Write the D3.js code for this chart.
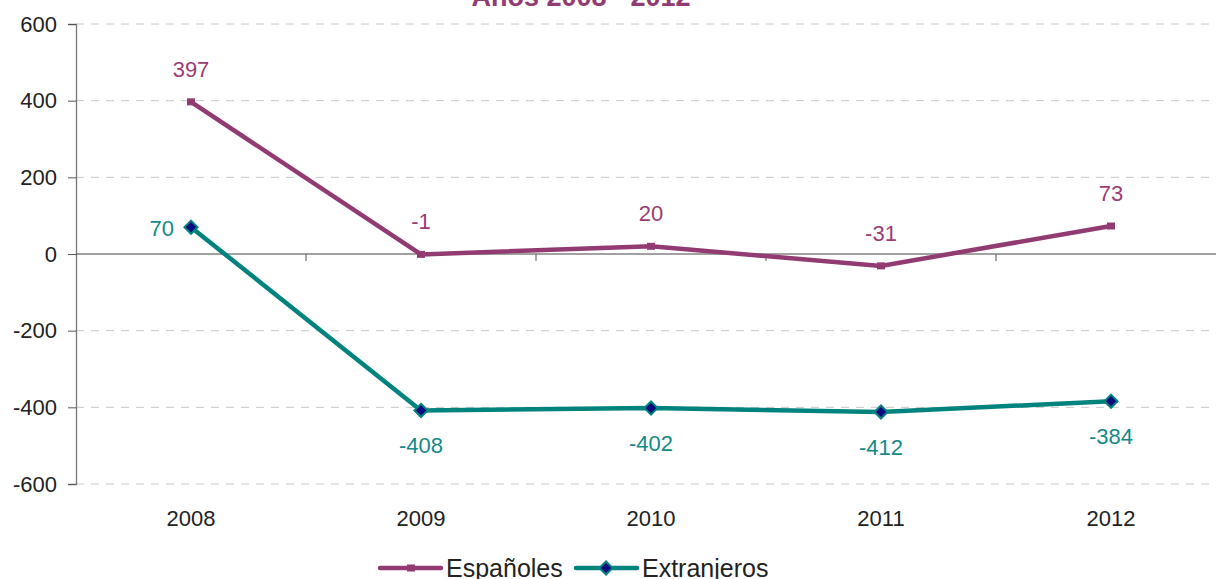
<!DOCTYPE html>
<html>
<head>
<meta charset="utf-8">
<script src="https://cdn.jsdelivr.net/npm/d3@7"></script>
<style>
  body { margin: 0; background: #fff; }
  text { font-family: 'Liberation Sans', Arial, sans-serif; }
</style>
</head>
<body>
<div id="chart"></div>
<script>
const years = ['2008', '2009', '2010', '2011', '2012']
const espanoles = [397, -1, 20, -31, 73]
const extranjeros = [70, -408, -402, -412, -384]
const yTicks = [600, 400, 200, 0, -200, -400, -600]

const width = 1216
const height = 579
const margin = { top: 24, right: -10, bottom: 95, left: 76 }

const purple = '#923a72'
const teal = '#00837d'

const svg = d3.select('#chart')
  .append('svg')
  .attr('width', width)
  .attr('height', height)

const x = d3.scaleBand()
  .domain(years)
  .range([margin.left, width - margin.right])

const y = d3.scaleLinear()
  .domain([-600, 600])
  .range([height - margin.bottom, margin.top])

// title, mostly cut off at the top
svg.append('text')
  .attr('x', 581)
  .attr('y', 6)
  .attr('text-anchor', 'middle')
  .attr('font-size', 27)
  .attr('font-weight', 'bold')
  .attr('fill', purple)
  .text('Años 2008 - 2012')

// gridlines
svg.append('g')
  .selectAll('line')
  .data(yTicks.filter(d => d !== 0))
  .join('line')
  .attr('x1', margin.left)
  .attr('x2', width)
  .attr('y1', d => y(d))
  .attr('y2', d => y(d))
  .attr('stroke', '#c8c8c8')
  .attr('stroke-dasharray', '8,7')

// y axis
const yAxis = svg.append('g')
  .attr('transform', 'translate(' + margin.left + ',0)')
  .call(d3.axisLeft(y).tickValues(yTicks).tickSize(8).tickPadding(11).tickFormat(d => String(d)))
yAxis.select('.domain').attr('stroke', '#777').attr('stroke-width', 1.3)
yAxis.selectAll('.tick line').attr('stroke', '#555')
yAxis.selectAll('text')
  .attr('font-size', 22)
  .attr('fill', '#222')
  .attr('font-family', "'Liberation Sans', Arial, sans-serif")

// zero line with category ticks
svg.append('line')
  .attr('x1', margin.left)
  .attr('x2', width)
  .attr('y1', y(0))
  .attr('y2', y(0))
  .attr('stroke', '#444')
  .attr('stroke-width', 1.2)

svg.append('g')
  .selectAll('line')
  .data(years.slice(1))
  .join('line')
  .attr('x1', d => x(d))
  .attr('x2', d => x(d))
  .attr('y1', y(0))
  .attr('y2', y(0) + 7)
  .attr('stroke', '#777')
  .attr('stroke-width', 1.3)

// x labels
svg.append('g')
  .selectAll('text')
  .data(years)
  .join('text')
  .attr('x', d => x(d) + x.bandwidth() / 2)
  .attr('y', 526)
  .attr('text-anchor', 'middle')
  .attr('font-size', 22)
  .attr('fill', '#222')
  .text(d => d)

const cx = (d, i) => x(years[i]) + x.bandwidth() / 2
const line = d3.line()
  .x(cx)
  .y(d => y(d))

// Españoles
svg.append('path')
  .datum(espanoles)
  .attr('fill', 'none')
  .attr('stroke', purple)
  .attr('stroke-width', 4.5)
  .attr('d', line)

svg.append('g')
  .selectAll('rect')
  .data(espanoles)
  .join('rect')
  .attr('x', (d, i) => cx(d, i) - 4)
  .attr('y', d => y(d) - 3.5)
  .attr('width', 8)
  .attr('height', 7)
  .attr('fill', purple)

svg.append('g')
  .selectAll('text')
  .data(espanoles)
  .join('text')
  .attr('x', cx)
  .attr('y', d => y(d) - 25)
  .attr('text-anchor', 'middle')
  .attr('font-size', 22)
  .attr('fill', '#9b3c72')
  .text(d => d)

// Extranjeros
svg.append('path')
  .datum(extranjeros)
  .attr('fill', 'none')
  .attr('stroke', teal)
  .attr('stroke-width', 4.5)
  .attr('d', line)

const diamond = d3.symbol().type(d3.symbolDiamond2).size(110)

svg.append('g')
  .selectAll('path')
  .data(extranjeros)
  .join('path')
  .attr('transform', (d, i) => 'translate(' + cx(d, i) + ',' + y(d) + ')')
  .attr('d', diamond)
  .attr('fill', '#0a0a80')
  .attr('stroke', teal)
  .attr('stroke-width', 2)

svg.append('g')
  .selectAll('text')
  .data(extranjeros)
  .join('text')
  .attr('x', (d, i) => i === 0 ? cx(d, i) - 17 : cx(d, i))
  .attr('y', (d, i) => i === 0 ? y(d) + 9 : y(d) + 43)
  .attr('text-anchor', (d, i) => i === 0 ? 'end' : 'middle')
  .attr('font-size', 22)
  .attr('fill', '#138a87')
  .text(d => d)

// legend
const legend = svg.append('g').attr('transform', 'translate(0,568)')
const items = [
  { name: 'Españoles', color: purple, x: 380, type: 'rect' },
  { name: 'Extranjeros', color: teal, x: 576, type: 'diamond' }
]
items.forEach(function (it) {
  legend.append('line')
    .attr('x1', it.x)
    .attr('x2', it.x + 61)
    .attr('y1', 0)
    .attr('y2', 0)
    .attr('stroke', it.color)
    .attr('stroke-width', 4.5)
    .attr('stroke-linecap', 'round')
  if (it.type === 'rect') {
    legend.append('rect')
      .attr('x', it.x + 27)
      .attr('y', -3.5)
      .attr('width', 8)
      .attr('height', 7)
      .attr('fill', it.color)
  } else {
    legend.append('path')
      .attr('transform', 'translate(' + (it.x + 30) + ',0)')
      .attr('d', diamond)
      .attr('fill', '#0a0a80')
      .attr('stroke', it.color)
      .attr('stroke-width', 2)
  }
  legend.append('text')
    .attr('x', it.x + 66)
    .attr('y', 9)
    .attr('font-size', 25)
    .attr('fill', '#222')
    .text(it.name)
})
</script>
</body>
</html>
